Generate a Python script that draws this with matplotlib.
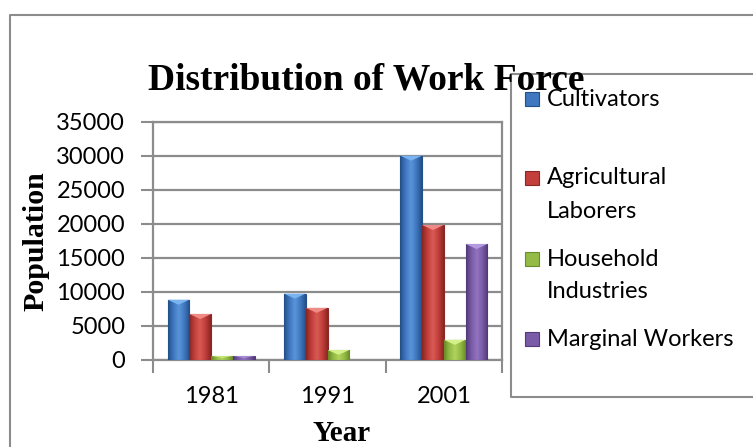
import numpy as np
import matplotlib
matplotlib.use('Agg')
import matplotlib.pyplot as plt
from matplotlib.colors import LinearSegmentedColormap
from matplotlib.patches import Rectangle, Polygon

years = ['1981', '1991', '2001']
cultivators = [8800, 9700, 30000]
agri_laborers = [6700, 7600, 19800]
household = [500, 1400, 2900]
marginal = [500, 0, 17000]

series = [cultivators, agri_laborers, household, marginal]
labels = ['Cultivators', 'Agricultural\nLaborers', 'Household\nIndustries', 'Marginal Workers']
# dark edge, mid, light centre, bevel top
palette = [
    ('#24508a', '#3f78c0', '#5b95d8', '#7ab4f0'),
    ('#8a2624', '#c23f3b', '#d95a55', '#f08a86'),
    ('#6c8c2a', '#94bb45', '#b0d45e', '#d4f08a'),
    ('#523a7a', '#7a5ba8', '#9274c0', '#b49ae0'),
]

serif = 'Liberation Serif'
sans = 'Lato'

fig = plt.figure(figsize=(7.53, 4.47), dpi=100)
ax = fig.add_axes([0.2032, 0.1957, 0.4635, 0.532])

width = 0.1875
x = np.arange(len(years))
ymax = 35000
bevel = 5.0 / 238 * ymax

for i, (vals, cols) in enumerate(zip(series, palette)):
    cmap = LinearSegmentedColormap.from_list('g%d' % i, [cols[0], cols[1], cols[2], cols[1], cols[0]])
    grad = np.linspace(0, 1, 64).reshape(1, -1)
    for xc, v in zip(x, vals):
        if v <= 0:
            continue
        x0 = xc - 0.375 + i * width
        x1 = x0 + width
        ax.imshow(grad, cmap=cmap, extent=[x0, x1, 0, v], aspect='auto',
                  interpolation='bilinear', zorder=3)
        ax.add_patch(Rectangle((x0, 0), width, v, fill=False, edgecolor=cols[0],
                               lw=0.8, zorder=4))
        b = min(bevel, v * 0.5)
        ax.add_patch(Polygon([(x0, v), (x1, v), (x0 + width / 2, v - b)],
                             closed=True, facecolor=cols[3], edgecolor='none', zorder=4))

ax.set_xlim(-0.5, 2.5)
ax.set_ylim(0, ymax)
ax.set_yticks(np.arange(0, 35001, 5000))
ax.set_yticklabels([str(v) for v in range(0, 35001, 5000)], fontfamily=sans, fontsize=17)
ax.set_xticks(x)
ax.set_xticklabels(years, fontfamily=sans, fontsize=17)
ax.set_xticks([-0.5, 0.5, 1.5, 2.5], minor=True)
ax.tick_params(axis='x', which='major', length=0, pad=19)
ax.tick_params(axis='x', which='minor', length=9, width=1.5, color='#8c8c8c')
ax.tick_params(axis='y', length=9, width=1.5, color='#8c8c8c', pad=11)
ax.grid(axis='y', color='#8c8c8c', lw=1.6, zorder=1)
ax.set_axisbelow(True)
for side in ['left', 'bottom', 'right', 'top']:
    ax.spines[side].set_color('#8c8c8c')
    ax.spines[side].set_linewidth(1.6)

# axis titles placed as in the reference
fig.text(36 / 753, 1 - 241 / 447, 'Population', fontfamily=serif, fontweight='bold',
         fontsize=21.5, rotation=90, ha='center', va='center')
fig.text(342 / 753, 1 - 441 / 447, 'Year', fontfamily=serif, fontweight='bold',
         fontsize=21, ha='center', va='baseline')

# outer chart border
fig.add_artist(plt.Line2D([10 / 753, 10 / 753, 1.0], [0.0, 1 - 15 / 447, 1 - 15 / 447],
                          transform=fig.transFigure, color='#8c8c8c', lw=1.5))

# legend box
lx0, lx1 = 511 / 753, 1.0
ly0, ly1 = 1 - 397 / 447, 1 - 74 / 447
fig.add_artist(plt.Line2D([lx1, lx0, lx0, lx1], [ly1, ly1, ly0, ly0],
                          transform=fig.transFigure, color='#8c8c8c', lw=1.5))
entry_y = [99, 178, 259, 339]
for lab, cols, ey in zip(labels, palette, entry_y):
    fy = 1 - ey / 447
    fig.add_artist(Rectangle((525 / 753, fy - 7 / 447), 14 / 753, 14 / 447,
                             transform=fig.transFigure, facecolor=cols[1],
                             edgecolor=cols[0], lw=0.8))
    for k, line in enumerate(lab.split('\n')):
        fig.text(547 / 753, 1 - (ey + 33 * k) / 447, line, fontfamily=sans, fontsize=17,
                 va='center', ha='left')

fig.text(148 / 753, 1 - 90 / 447, 'Distribution of Work Force', fontfamily=serif,
         fontweight='bold', fontsize=27, ha='left', va='baseline', zorder=10)

fig.savefig('out.png', dpi=100)
